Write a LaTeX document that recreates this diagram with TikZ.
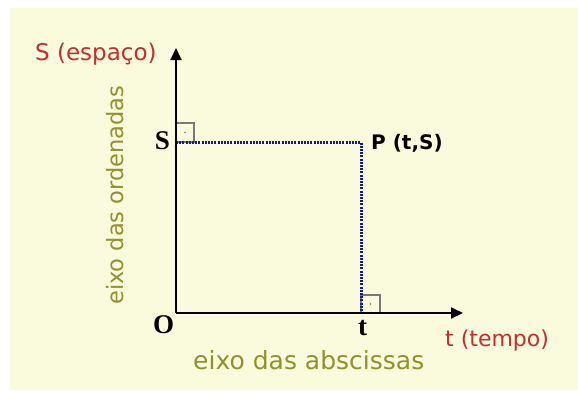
\documentclass[tikz,border=0pt]{standalone}
\usepackage{fontspec}
\setmainfont{DejaVu Sans}
\newfontfamily\serifb{Liberation Serif}
\usetikzlibrary{arrows.meta,calc}
\definecolor{bgy}{RGB}{250,250,220}
\definecolor{redt}{RGB}{192,48,48}
\definecolor{olivet}{RGB}{145,145,45}
\definecolor{dotblue}{RGB}{25,25,160}
\definecolor{boxgray}{RGB}{120,120,120}
\begin{document}
\begin{tikzpicture}[x=1pt,y=-1pt,
  axis/.style={line width=2pt,black,-{Triangle[length=12pt,width=11pt]}},
  dotline/.style={line width=3pt,dotblue,dash pattern=on 2pt off 1.2pt},
  rbox/.style={draw=boxgray,line width=1.1pt},
  seriflab/.style={inner sep=0pt,font=\serifb\bfseries\fontsize{27}{30}\selectfont},
  redlab/.style={inner sep=0pt,text=redt},
  olivelab/.style={inner sep=0pt,text=olivet}]
\useasboundingbox (0,0) rectangle (578,394);
\fill[bgy] (10,8) rectangle (578,390);
\coordinate (O) at (176,313);
\coordinate (ytip) at (176,48);
\coordinate (xtip) at (463,313);
\coordinate (Sy) at (176,142);
\coordinate (P) at (361,142);
\coordinate (tx) at (361,313);
% right-angle marks
\draw[rbox] (Sy) rectangle ++(18,-19);
\fill[boxgray] ($(Sy)+(9,-9.5)$) circle (0.9);
\draw[rbox] (tx) rectangle ++(19,-18);
\fill[boxgray] ($(tx)+(9.5,-9)$) circle (0.9);
% dotted projections
\draw[dotline] (Sy) -- (P) -- (tx);
% axes
\draw[axis] (O) -- (ytip);
\draw[axis] (O) -- (xtip);
% labels
\node[seriflab] (Slab) at (162.5,141) {S};
\node[seriflab] (Olab) at (163.5,325) {O};
\node[seriflab] (tlab) at (362.5,328) {t};
\node[inner sep=0pt,anchor=base west,font=\bfseries\fontsize{20}{24}\selectfont] (Plab) at (371,149) {P (t,S)};
\node[redlab,anchor=base west,font=\fontsize{23}{26}\selectfont] (Slabel) at (35,60) {S (espaço)};
\node[redlab,anchor=base west,font=\fontsize{22}{26}\selectfont] (tlabel) at (445,346) {t (tempo)};
\node[olivelab,anchor=base west,font=\fontsize{25}{28}\selectfont] (absc) at (193,369) {eixo das abscissas};
\node[olivelab,anchor=base west,rotate=90,font=\fontsize{22.5}{26}\selectfont] (ord) at (123,305) {eixo das ordenadas};
\end{tikzpicture}
\end{document}
